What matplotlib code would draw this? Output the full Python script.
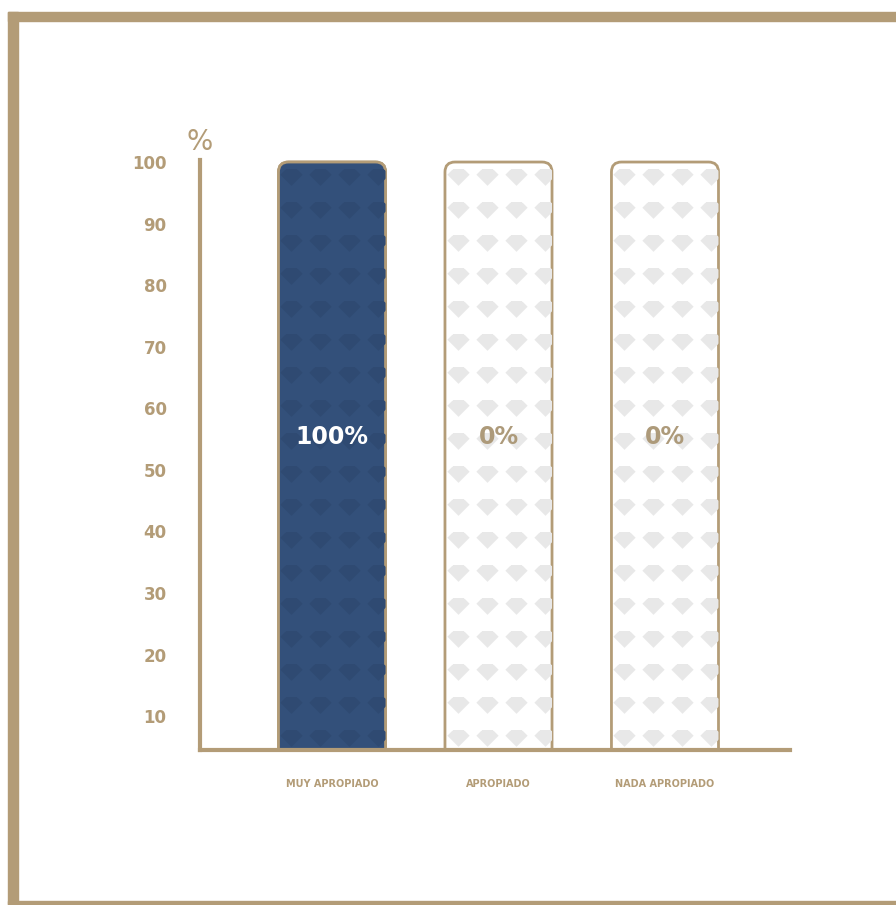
"""
Bar chart: rating of appropriateness (percent of answers)
"""

import numpy as np
import matplotlib.pyplot as plt
from matplotlib.patches import FancyBboxPatch, Rectangle
from matplotlib.path import Path

# data
categories = ['MUY APROPIADO', 'APROPIADO', 'NADA APROPIADO']
values = [100, 0, 0]
value_labels = ['100%', '0%', '0%']
yticks = [10, 20, 30, 40, 50, 60, 70, 80, 90, 100]

TAN = '#b39c77'
NAVY = '#33507a'
GEM_LIGHT = '#e8e8e8'
GEM_DARK = '#2f4a72'

plt.rcParams['font.family'] = ['DejaVu Sans']

fig = plt.figure(figsize=(8.96, 9.05), dpi=100)
fig.patch.set_facecolor('white')

# frame around the picture (left, top, bottom)
W, H = 896, 905
fig.patches.append(Rectangle((8 / W, 0), 10 / W, 1 - 12 / H,
                             transform=fig.transFigure, color=TAN, zorder=0))
fig.patches.append(Rectangle((8 / W, 1 - 21 / H), 1, 9 / H,
                             transform=fig.transFigure, color=TAN, zorder=0))
fig.patches.append(Rectangle((8 / W, 1 - 904 / H), 1, 3 / H,
                             transform=fig.transFigure, color=TAN, zorder=0))

ymin, ymax = 4.5, 104
ax = fig.add_axes([200 / W, 155 / H, 590 / W, (750 - 137.4) / H])
ax.set_xlim(-0.793, 2.751)
ax.set_ylim(ymin, ymax)

# pixel scale for the rounded corners
px_x = 590 / (2.751 + 0.793)
px_y = (750 - 137.4) / (ymax - ymin)
bar_w = 0.643
r = 10 / px_x

# gem marker (flat top, pointed bottom)
gem = Path([(-1.0, 0.25), (-0.55, 0.7), (0.55, 0.7), (1.0, 0.25), (0.0, -0.75), (-1.0, 0.25)],
           [Path.MOVETO, Path.LINETO, Path.LINETO, Path.LINETO, Path.LINETO, Path.CLOSEPOLY])

for i, (cat, val) in enumerate(zip(categories, values)):
    left = i - bar_w / 2
    # full-height track
    track = FancyBboxPatch((left, 0), bar_w, 100, boxstyle=f'round,pad=0,rounding_size={r}',
                           mutation_aspect=px_x / px_y, facecolor='white',
                           edgecolor=TAN, linewidth=2, zorder=2)
    ax.add_patch(track)
    filled = val >= 100
    if val > 0:
        fill = FancyBboxPatch((left, 0), bar_w, val, boxstyle=f'round,pad=0,rounding_size={r}',
                              mutation_aspect=px_x / px_y, facecolor=NAVY,
                              edgecolor=TAN, linewidth=2, zorder=3)
        ax.add_patch(fill)

    # gem pattern inside the bar
    gx = left + (13 + 29 * np.arange(4)) / px_x
    gy = np.arange(97.5, ymin + 1, -33 / px_y)
    GX, GY = np.meshgrid(gx, gy)
    sc = ax.scatter(GX.ravel(), GY.ravel(), marker=gem, s=16 ** 2,
                    color=GEM_DARK if filled else GEM_LIGHT, linewidths=0, zorder=4)
    sc.set_clip_path(track)

    ax.text(i, 55.3, value_labels[i], ha='center', va='center',
            fontsize=17, fontweight='bold', color='white' if filled else '#ad9a7a', zorder=5)

# axes styling
for side in ['top', 'right']:
    ax.spines[side].set_visible(False)
ax.spines['left'].set_color(TAN)
ax.spines['left'].set_linewidth(3)
ax.spines['left'].set_bounds(ymin, 100.3)
ax.spines['bottom'].set_color(TAN)
ax.spines['bottom'].set_linewidth(3)
ax.spines['left'].set_zorder(6)
ax.spines['bottom'].set_zorder(6)

ax.set_yticks(yticks)
ax.set_yticklabels([str(t) for t in yticks])
ax.tick_params(axis='y', length=0, pad=24, labelsize=12, labelcolor=TAN)
for lbl in ax.get_yticklabels():
    lbl.set_fontweight('bold')

ax.set_xticks(range(len(categories)))
ax.set_xticklabels(categories)
ax.tick_params(axis='x', length=0, pad=21, labelsize=7, labelcolor=TAN)
for lbl in ax.get_xticklabels():
    lbl.set_fontweight('bold')

ax.text(0.0, 0.992, '%', transform=ax.transAxes, ha='center', va='center',
        fontsize=20, color=TAN)

ax.set_facecolor('none')
fig.savefig('out.png', dpi=100)
